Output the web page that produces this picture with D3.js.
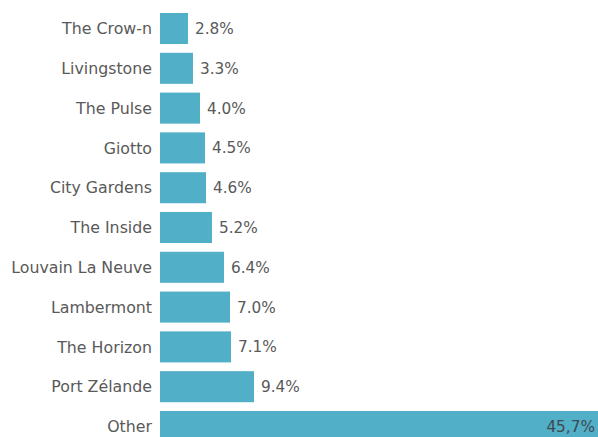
<!DOCTYPE html>
<html>
<head>
<meta charset="utf-8">
<script src="https://cdn.jsdelivr.net/npm/d3@7"></script>
<style>
  body { margin: 0; background: #fff; }
  svg { display: block; }
</style>
</head>
<body>
<svg id="chart" width="598" height="437"></svg>
<script>
const categories = ['The Crow-n', 'Livingstone', 'The Pulse', 'Giotto', 'City Gardens', 'The Inside',
    'Louvain La Neuve', 'Lambermont', 'The Horizon', 'Port Zélande', 'Other'];
const values = [2.8, 3.3, 4.0, 4.5, 4.6, 5.2, 6.4, 7.0, 7.1, 9.4, 45.7];
const valueLabels = ['2.8%', '3.3%', '4.0%', '4.5%', '4.6%', '5.2%', '6.4%', '7.0%', '7.1%', '9.4%', '45,7%'];

const width = 598, height = 437;
const x0 = 160;
const svg = d3.select('#chart');

const x = d3.scaleLinear()
    .domain([0, 10])
    .range([x0, x0 + 100]);

const y = d3.scaleBand()
    .domain(categories)
    .range([13, 442])
    .paddingInner(0.22)
    .paddingOuter(0);

const data = categories.map((c, i) => ({ name: c, value: values[i], label: valueLabels[i] }));

// category labels
svg.append('g')
    .selectAll('text')
    .data(data)
    .join('text')
    .attr('x', x0 - 8)
    .attr('y', d => y(d.name) + y.bandwidth() / 2)
    .attr('dy', '0.36em')
    .attr('text-anchor', 'end')
    .attr('font-family', 'DejaVu Sans, sans-serif')
    .attr('font-size', 15.8)
    .attr('fill', '#595959')
    .text(d => d.name);

// bars
svg.append('g')
    .selectAll('rect')
    .data(data)
    .join('rect')
    .attr('x', x(0))
    .attr('y', d => y(d.name))
    .attr('width', d => Math.min(x(d.value), width) - x(0))
    .attr('height', y.bandwidth())
    .attr('fill', '#52afc8');

// value labels
svg.append('g')
    .selectAll('text')
    .data(data)
    .join('text')
    .attr('x', d => x(d.value) > width - 60 ? width - 3 : x(d.value) + 7)
    .attr('y', d => y(d.name) + y.bandwidth() / 2)
    .attr('dy', '0.36em')
    .attr('text-anchor', d => x(d.value) > width - 60 ? 'end' : 'start')
    .attr('font-family', 'DejaVu Sans, sans-serif')
    .attr('font-size', 15.3)
    .attr('fill', d => x(d.value) > width - 60 ? '#3d4a50' : '#595959')
    .text(d => d.label);
</script>
</body>
</html>
